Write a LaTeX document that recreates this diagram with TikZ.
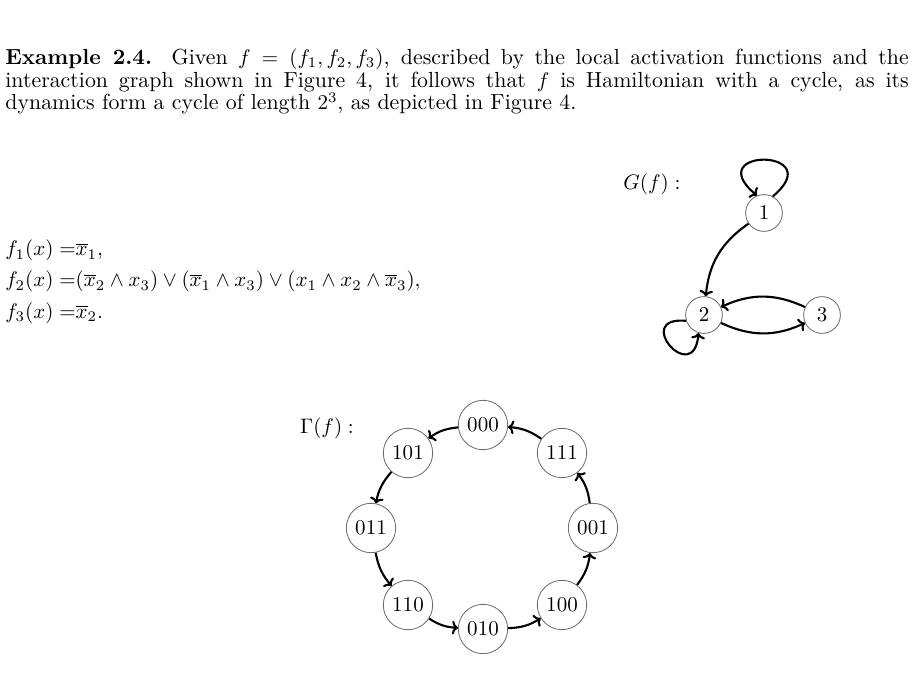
\documentclass[tikz,border=0pt]{standalone}
\usepackage{tikz}
\usetikzlibrary{arrows.meta}
\usepackage{xcolor}
\definecolor{nodegray}{RGB}{110,110,110}

\begin{document}
\begin{tikzpicture}[
    x=0.476pt, y=0.476pt,
    txt/.style={inner sep=0pt, font=\fontsize{10}{11}\selectfont},
    vert/.style={circle, draw=nodegray, line width=0.4pt, minimum size=17.5pt, inner sep=1pt},
    state/.style={circle, draw=nodegray, line width=0.4pt, minimum size=23.5pt, inner sep=1pt},
    arc/.style={-{To[length=2.8pt,width=6.5pt]}, line width=1pt},
]
\useasboundingbox (0,0) rectangle (914,-678);

% Example text
\node[txt, font=\fontsize{10.4}{10.9}\selectfont, text width=430pt, align=justify, anchor=north west] (para) at (5,-48) {
\textbf{Example 2.4.} Given $f = (f_1, f_2, f_3)$, described by the local activation functions and the\linebreak
interaction graph shown in Figure 4, it follows that $f$ is Hamiltonian with a cycle, as its\linebreak
dynamics form a cycle of length $2^3$, as depicted in Figure 4.
};

% Local functions
\node[txt, anchor=base west] (eq1) at (5,-256) {$f_1(x) =${}$\overline{x}_1,$};
\node[txt, anchor=base west] (eq2) at (5,-287) {$f_2(x) =${}$(\overline{x}_2 \wedge x_3) \vee (\overline{x}_1 \wedge x_3) \vee (x_1 \wedge x_2 \wedge \overline{x}_3),$};
\node[txt, anchor=base west] (eq3) at (5,-318) {$f_3(x) =${}$\overline{x}_2.$};

% Interaction graph
\node[txt] (glabel) at (652,-184) {$G(f):$};
\node[vert] (g1) at (764,-213) {$1$};
\node[vert] (g2) at (704,-315) {$2$};
\node[vert] (g3) at (822,-315) {$3$};

\draw[arc] (g1.62) .. controls +(40:75) and +(140:75) .. (g1.112);
\draw[arc] (g1) to[bend right=25] (g2);
\draw[arc] (g2.198) .. controls +(175:55) and +(265:55) .. (g2.253);
\draw[arc] (g3) to[bend right=25] (g2);
\draw[arc] (g2) to[bend right=25] (g3);

% Dynamics
\node[txt] (dlabel) at (327,-428) {$\Gamma(f):$};
\node[state] (s000) at (483,-425) {$000$};
\node[state] (s111) at (562,-453) {$111$};
\node[state] (s101) at (408,-453) {$101$};
\node[state] (s011) at (371,-528) {$011$};
\node[state] (s001) at (593,-528) {$001$};
\node[state] (s110) at (408,-605) {$110$};
\node[state] (s100) at (562,-605) {$100$};
\node[state] (s010) at (483,-629) {$010$};

\draw[arc] (s000) to[bend right=15] (s101);
\draw[arc] (s101) to[bend right=15] (s011);
\draw[arc] (s011) to[bend right=15] (s110);
\draw[arc] (s110) to[bend right=15] (s010);
\draw[arc] (s010) to[bend right=15] (s100);
\draw[arc] (s100) to[bend right=15] (s001);
\draw[arc] (s001) to[bend right=15] (s111);
\draw[arc] (s111) to[bend right=15] (s000);

\end{tikzpicture}
\end{document}
